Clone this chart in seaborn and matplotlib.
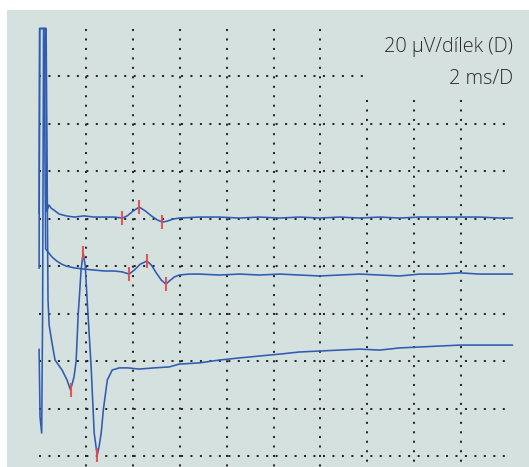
import numpy as np
import pandas as pd
import matplotlib
matplotlib.use("Agg")
import matplotlib.pyplot as plt
import seaborn as sns

# ---- data (time in ms, amplitude in µV; 0 µV = top of the screen grid) ----
t1_ms = [0.0, 0.03, 0.28, 0.33, 0.42, 0.51, 0.68, 0.85, 1.15, 1.5, 1.92, 2.35, 2.78, 3.21,
         3.55, 3.76, 4.02, 4.27, 4.53, 4.79, 5.04, 5.26, 5.47, 5.73, 5.98, 6.84, 7.69, 8.55,
         9.40, 10.26, 11.11, 11.97, 12.82, 13.68, 14.53, 15.38, 16.24, 17.09, 17.95, 18.80,
         19.66, 20.2]
t1_uv = [-78.0, 0.0, 0.0, -77.0, -74.3, -75.6, -76.8, -78.1, -78.9, -79.4, -78.9, -79.4, -79.4, -79.4,
         -79.8, -78.9, -76.8, -75.2, -76.8, -78.9, -80.6, -81.5, -81.1, -80.2, -79.8, -79.4, -79.4, -79.8,
         -79.4, -79.8, -79.4, -79.8, -79.4, -79.8, -79.4, -79.8, -79.4, -79.4, -79.4, -79.4,
         -79.8, -79.8]

t2_ms = [0.0, 0.02, 0.21, 0.28, 0.38, 0.55, 0.75, 0.96, 1.15, 1.5, 1.92, 2.35, 2.78, 3.21,
         3.55, 3.84, 4.06, 4.32, 4.6, 4.79, 5.0, 5.21, 5.41, 5.56, 5.77, 5.98, 6.41, 6.84,
         7.69, 8.55, 9.40, 10.26, 11.11, 11.97, 12.82, 13.68, 14.53, 15.38, 16.24, 17.09,
         17.95, 18.80, 19.66, 20.2]
t2_uv = [-101.0, 0.0, 0.0, -92.8, -94.1, -96.2, -97.9, -99.2, -100.0, -100.8, -101.3, -101.7, -102.1, -102.1,
         -102.5, -103.4, -101.7, -99.2, -97.9, -99.6, -102.9, -105.9, -107.6, -106.3, -104.6, -103.8, -103.4, -103.4,
         -103.8, -103.4, -103.8, -103.4, -103.8, -104.2, -103.8, -103.4, -103.8, -104.2, -103.4, -103.4,
         -102.9, -103.4, -103.4, -103.4]

t3_ms = [0.0, 0.04, 0.11, 0.15, 0.19, 0.30, 0.38, 0.43, 0.55, 0.68, 0.98, 1.19, 1.34,
         1.49, 1.58, 1.67, 1.71, 1.79, 1.88, 1.97, 2.05, 2.22, 2.35, 2.44, 2.48,
         2.56, 2.65, 2.74, 2.91, 3.12, 3.42, 3.80, 4.27, 4.91, 5.55, 5.98, 6.84, 7.69,
         8.55, 9.40, 10.26, 11.11, 11.97, 12.82, 13.68, 14.53, 15.38, 16.24, 17.09,
         17.95, 18.80, 19.66, 20.2]
t3_uv = [-135.0, -163.6, -170.3, -120.0, 0.0, 0.0, -114.3, -125.0, -132.4, -139.6, -143.8, -148.0, -152.2,
         -146.7, -140.0, -120.0, -114.3, -101.7, -94.5, -100.0, -114.3, -142.5, -170.3, -177.0, -179.6,
         -176.0, -170.3, -160.6, -148.0, -143.8, -142.9, -142.9, -143.4, -142.9, -142.5, -141.3, -140.8, -139.6,
         -138.7, -137.9, -137.1, -136.2, -135.8, -135.4, -135.0, -135.4, -134.5, -134.1, -133.7,
         -133.3, -133.3, -133.3, -133.3]

# latency marks (red ticks)
mark_ms = [3.55, 4.27, 5.26, 3.84, 4.60, 5.41, 1.34, 1.88, 2.48]
mark_uv = [-79.8, -75.2, -81.5, -103.4, -97.9, -107.6, -152.2, -94.5, -179.6]

grid_x_ms = [2, 4, 6, 8, 10, 12, 14, 16, 18]
grid_y_uv = [-20, -40, -60, -80, -100, -120, -140, -160, -180]

label_gain = "20 µV/dílek (D)"
label_time = "2 ms/D"

# ---- build frames ----
df = pd.concat([
    pd.DataFrame({"trace": "A", "ms": t1_ms, "uv": t1_uv}),
    pd.DataFrame({"trace": "B", "ms": t2_ms, "uv": t2_uv}),
    pd.DataFrame({"trace": "C", "ms": t3_ms, "uv": t3_uv}),
], ignore_index=True)
marks = pd.DataFrame({"ms": mark_ms, "uv": mark_uv})

bg = "#d4e1de"
line_c = "#2f5cb0"
red_c = "#e8474a"

sns.set_theme(style="white")
plt.rcParams["font.family"] = ["Open Sans", "DejaVu Sans"]

W, H = 529, 467
fig = plt.figure(figsize=(W / 100, H / 100), dpi=100)
fig.patch.set_facecolor("white")
ax = fig.add_axes([7 / W, 0, 522 / W, 457 / H])
ax.set_facecolor(bg)

# screen grid (dotted); the label box keeps the top-right corner free
dot = (0, (1, 3.7))
for gx in grid_x_ms:
    ytop = -30 if gx > 13 else 0
    ax.plot([gx, gx], [ytop, -200], color="#262626", lw=1.45, linestyle=dot,
            dash_capstyle="butt", zorder=1)
for gy in grid_y_uv:
    xe = 13.8 if gy == -20 else 20.0
    ax.plot([0, xe], [gy, gy], color="#262626", lw=1.45, linestyle=dot,
            dash_capstyle="butt", zorder=1)

sns.lineplot(data=df, x="ms", y="uv", hue="trace", estimator=None, sort=False,
             palette=[line_c] * 3, lw=1.15, legend=False, ax=ax, zorder=3)

ax.plot(marks["ms"], marks["uv"], linestyle="none", marker="|", markersize=10.5,
        markeredgewidth=1.5, color=red_c, alpha=0.9, zorder=4)

ax.set_xlim((7 - 39.1) / 23.44, (529 - 39.1) / 23.44)
ax.set_ylim((28.5 - 467) / 2.375, (28.5 - 10) / 2.375)
ax.set_xticks([])
ax.set_yticks([])
ax.set_xlabel("")
ax.set_ylabel("")
for s in ax.spines.values():
    s.set_visible(False)

ax.text(0.970, 0.919, label_gain, transform=ax.transAxes, ha="right", va="center",
        fontsize=14.3, color="#2b2b2b", fontweight="light")
ax.text(0.970, 0.850, label_time, transform=ax.transAxes, ha="right", va="center",
        fontsize=14.3, color="#2b2b2b", fontweight="light")

fig.savefig("out.png", dpi=100, facecolor="white")
